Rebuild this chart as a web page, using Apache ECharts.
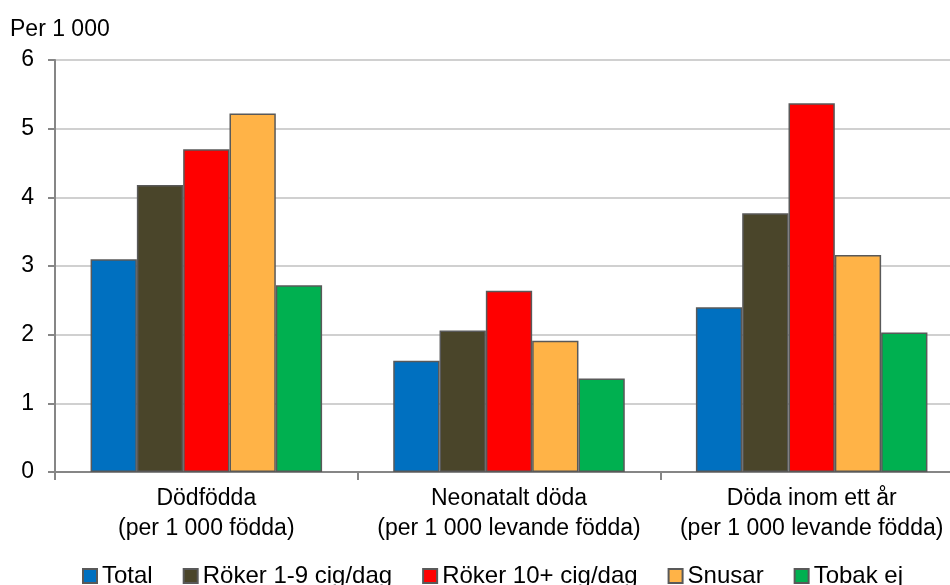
<!DOCTYPE html>
<html>
<head>
<meta charset="utf-8">
<script src="https://cdn.jsdelivr.net/npm/echarts@6/dist/echarts.min.js"></script>
<style>
  html, body { margin: 0; padding: 0; background: #ffffff; }
  #chart { width: 950px; height: 585px; }
</style>
</head>
<body>
<div id="chart"></div>
<script>
// Dödlighet per 1 000 efter moderns tobaksvanor
const categories = [
  'Dödfödda\n(per 1 000 födda)',
  'Neonatalt döda\n(per 1 000 levande födda)',
  'Döda inom ett år\n(per 1 000 levande födda)'
];
const seriesNames = ['Total', 'Röker 1-9 cig/dag', 'Röker 10+ cig/dag', 'Snusar', 'Tobak ej'];
const total      = [3.10, 1.62, 2.40];
const roker1to9  = [4.18, 2.06, 3.77];
const roker10    = [4.70, 2.64, 5.37];
const snusar     = [5.22, 1.91, 3.16];
const tobakEj    = [2.72, 1.36, 2.03];
const yTicks = [0, 1, 2, 3, 4, 5, 6];

const colors = ['#0070C0', '#4A452A', '#FF0000', '#FFB347', '#00B050'];
const values = [total, roker1to9, roker10, snusar, tobakEj];
const font = '"Liberation Sans", Arial, sans-serif';

const chart = echarts.init(document.getElementById('chart'), null, { renderer: 'canvas' });
chart.setOption({
  animation: false,
  backgroundColor: '#ffffff',
  title: {
    text: 'Per 1 000',
    left: 10,
    top: 18,
    padding: 0,
    textStyle: { fontFamily: font, fontSize: 23, fontWeight: 'normal', color: '#000' }
  },
  legend: {
    data: seriesNames,
    left: 82,
    top: 564,
    padding: 0,
    icon: 'rect',
    itemWidth: 14,
    itemHeight: 14,
    itemGap: 30,
    textStyle: { fontFamily: font, fontSize: 24, color: '#000' }
  },
  // the plot area runs a little past the right edge of the canvas
  grid: {
    left: 55, width: 908, top: 60, bottom: 113,
    containLabel: false, outerBoundsMode: 'none'
  },
  xAxis: {
    type: 'category',
    data: categories,
    axisLine: { lineStyle: { color: '#868686', width: 2 } },
    axisTick: { show: true, length: 8, lineStyle: { color: '#868686', width: 2 } },
    axisLabel: {
      fontFamily: font, fontSize: 23, color: '#000',
      lineHeight: 30, margin: 12, interval: 0
    },
    splitLine: { show: false }
  },
  yAxis: {
    type: 'value',
    min: yTicks[0],
    max: yTicks[yTicks.length - 1],
    interval: 1,
    axisLine: { show: true, lineStyle: { color: '#868686', width: 2 } },
    axisTick: { show: true, length: 7, lineStyle: { color: '#868686', width: 2 } },
    axisLabel: { fontFamily: font, fontSize: 23, color: '#000', margin: 21 },
    splitLine: { lineStyle: { color: '#c0c0c0', width: 1.5 } }
  },
  series: seriesNames.map((name, i) => ({
    name: name,
    type: 'bar',
    data: values[i],
    barGap: '0%',
    barCategoryGap: '23.5%',
    itemStyle: { color: colors[i], borderColor: '#595959', borderWidth: 1.5 }
  }))
});
</script>
</body>
</html>
